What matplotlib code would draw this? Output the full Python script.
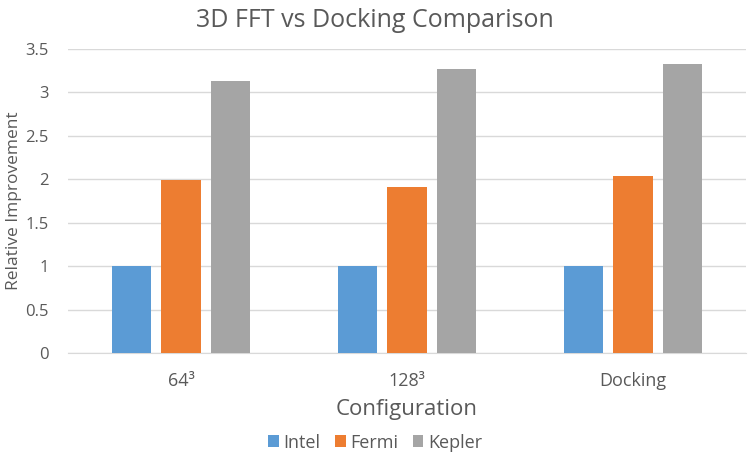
import matplotlib.pyplot as plt
import numpy as np
from matplotlib.ticker import FuncFormatter

configs = ['64³', '128³', 'Docking']
intel = [1.0, 1.0, 1.0]
fermi = [1.99, 1.91, 2.04]
kepler = [3.13, 3.27, 3.33]

plt.rcParams['font.family'] = ['Open Sans', 'DejaVu Sans']
txt = '#595959'

fig = plt.figure(figsize=(7.5, 4.62), dpi=100)
ax = fig.add_axes([0.0907, 0.236, 0.904, 0.658])

x = np.arange(len(configs))
w = 0.173
off = 0.22
ax.bar(x - off, intel, w, color='#5b9bd5', label='Intel', zorder=3)
ax.bar(x, fermi, w, color='#ed7d31', label='Fermi', zorder=3)
ax.bar(x + off, kepler, w, color='#a5a5a5', label='Kepler', zorder=3)

ax.set_xlim(-0.5, 2.5)
ax.set_ylim(0, 3.5)
ax.set_yticks(np.arange(0, 3.51, 0.5))
ax.yaxis.set_major_formatter(FuncFormatter(lambda v, p: f'{v:g}'))
ax.set_xticks(x)
ax.set_xticklabels(configs)
ax.grid(axis='y', color='#d9d9d9', linewidth=1, zorder=0)
for s in ['top', 'right', 'left']:
    ax.spines[s].set_visible(False)
ax.spines['bottom'].set_color('#d9d9d9')
ax.tick_params(length=0, colors=txt, labelsize=12)
ax.tick_params(axis='x', pad=14, labelsize=13)
ax.tick_params(axis='y', pad=14)

ax.set_xlabel('Configuration', fontsize=16, color=txt, labelpad=6)
fig.text(0.019, 0.566, 'Relative Improvement', rotation=90, ha='center',
         va='center', fontsize=12.5, color=txt)
fig.text(0.5, 0.955, '3D FFT vs Docking Comparison', ha='center', va='center',
         fontsize=18, color=txt)
fig.legend(loc='center', bbox_to_anchor=(0.5, 0.042), ncol=3, frameon=False,
           fontsize=13, labelcolor=txt, handlelength=0.6, handleheight=0.6,
           handletextpad=0.25, columnspacing=0.8)

plt.savefig('out.png')
